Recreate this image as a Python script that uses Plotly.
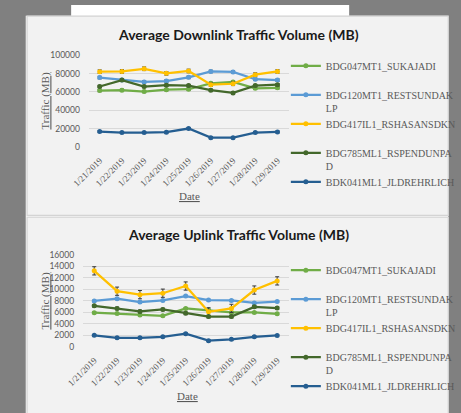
import plotly.graph_objects as go

W, H = 461, 413

DATES = ["1/21/2019", "1/22/2019", "1/23/2019", "1/24/2019", "1/25/2019",
         "1/26/2019", "1/27/2019", "1/28/2019", "1/29/2019"]

SERIES = ["BDG047MT1_SUKAJADI", "BDG120MT1_RESTSUNDAK<br>LP", "BDG417IL1_RSHASANSDKN",
          "BDG785ML1_RSPENDUNPA<br>D", "BDK041ML1_JLDREHRLICH"]
COLORS = ["#70ad47", "#5b9bd5", "#ffc000", "#43682b", "#255e91"]

# Downlink (MB)
DL_SUKAJADI = [61500, 62000, 60500, 62500, 63000, 69500, 71000, 64000, 64500]
DL_RESTSUNDAK = [75800, 73000, 71000, 72000, 76000, 82500, 82000, 74000, 73000]
DL_RSHASAN = [82200, 82500, 85400, 80400, 83000, 68000, 69000, 79000, 82500]
DL_RSPENDUN = [66000, 73000, 66000, 67500, 67000, 62000, 59000, 67000, 68000]
DL_JLDREHRLICH = [16700, 15600, 15600, 16000, 20000, 10000, 10000, 15600, 16300]
DL_ERR = [1200, 1400, 2000, 1300, 1000]

# Uplink (MB)
UL_SUKAJADI = [5900, 5750, 5500, 5350, 6650, 6350, 5950, 5950, 5700]
UL_RESTSUNDAK = [7950, 8350, 7750, 8050, 8800, 8100, 8050, 7600, 7850]
UL_RSHASAN = [13200, 9650, 9050, 9300, 10550, 6050, 6650, 9850, 11450]
UL_RSPENDUN = [7100, 6650, 6130, 6470, 5800, 5220, 5220, 6920, 6700]
UL_JLDREHRLICH = [1950, 1530, 1530, 1700, 2250, 1020, 1250, 1700, 1930]
UL_ERR = [140, 120, 720, 230, 130]

DL = [DL_SUKAJADI, DL_RESTSUNDAK, DL_RSHASAN, DL_RSPENDUN, DL_JLDREHRLICH]
UL = [UL_SUKAJADI, UL_RESTSUNDAK, UL_RSHASAN, UL_RSPENDUN, UL_JLDREHRLICH]

DL_TICKS = [0, 20000, 40000, 60000, 80000, 100000]
UL_TICKS = [0, 2000, 4000, 6000, 8000, 10000, 12000, 14000, 16000]


def px(x):
    return x / W


def py(y):
    return 1 - y / H


fig = go.Figure()

for i in range(5):
    for data, err, xa, ya, lg in ((DL, DL_ERR, "x", "y", "legend"),
                                 (UL, UL_ERR, "x2", "y2", "legend2")):
        name = SERIES[i] if "<br>" in SERIES[i] else SERIES[i] + "<br> "
        fig.add_trace(go.Scatter(
            x=DATES, y=data[i], name=name, xaxis=xa, yaxis=ya, legend=lg,
            mode="lines+markers",
            line=dict(color=COLORS[i], width=2.25),
            marker=dict(color=COLORS[i], size=5),
            error_y=dict(type="constant", value=err[i], color="#3a3a3a",
                         thickness=1, width=2),
        ))

shapes = [
    # white strip at top
    dict(type="rect", x0=px(59), x1=px(362), y0=py(0), y1=py(11.5),
         fillcolor="white", line_width=0),
    # light outline around panels
    dict(type="rect", x0=px(9.5), x1=px(470), y0=py(11), y1=py(420),
         fillcolor="#f4f4f4", line_width=0),
    # top panel
    dict(type="rect", x0=px(11), x1=px(470), y0=py(11.5), y1=py(215.5),
         fillcolor="#f2f2f2", line=dict(color="#d4d4d4", width=1.2)),
    # bottom panel
    dict(type="rect", x0=px(11), x1=px(470), y0=py(217.5), y1=py(420),
         fillcolor="#f2f2f2", line=dict(color="#d4d4d4", width=1.2)),
]
for s in shapes:
    s.update(xref="paper", yref="paper", layer="below")

title_font = dict(family="Lato", size=14, color="#1a1a1a", weight="bold")
axis_title_font = dict(family="Liberation Serif", size=11, color="#595959")

annotations = [
    dict(text="Average Downlink Traffic Volume (MB)", x=px(241.5), y=py(30)),
    dict(text="Average Uplink Traffic Volume (MB)", x=px(241), y=py(235)),
]
for a in annotations:
    a.update(font=title_font, showarrow=False, xref="paper", yref="paper",
             xanchor="center", yanchor="middle")

for yc, xc in ((98.5, 31), (303.5, 31)):
    annotations.append(dict(text="<u>Traffic (MB)</u>", x=px(xc), y=py(yc),
                            textangle=-90, font=axis_title_font, showarrow=False,
                            xref="paper", yref="paper", xanchor="center",
                            yanchor="middle"))
for yc, xc in ((196, 188), (401, 186)):
    annotations.append(dict(text="<u>Date</u>", x=px(xc), y=py(yc),
                            font=axis_title_font, showarrow=False,
                            xref="paper", yref="paper", xanchor="center",
                            yanchor="middle"))

xaxis_common = dict(
    type="category", range=[-0.5, 8.5], showgrid=False, zeroline=False,
    showline=False, tickangle=-45, ticks="outside", ticklen=4,
    tickcolor="rgba(0,0,0,0)",
    tickfont=dict(family="Liberation Serif", size=9, color="#595959"),
)
yaxis_common = dict(
    showgrid=True, gridcolor="#d9d9d9", gridwidth=1, zeroline=False,
    showline=False, ticks="outside", ticklen=6, tickcolor="rgba(0,0,0,0)",
    tickfont=dict(family="Lato", size=8.5, color="#595959"),
)

legend_common = dict(
    font=dict(family="Liberation Serif", size=10, color="#595959"),
    bgcolor="rgba(0,0,0,0)", borderwidth=0, xanchor="left", yanchor="top",
    valign="top", tracegroupgap=0, itemwidth=30, traceorder="normal",
)

fig.update_layout(
    width=W, height=H, autosize=False,
    margin=dict(l=0, r=0, t=0, b=0),
    paper_bgcolor="#808080", plot_bgcolor="rgba(0,0,0,0)",
    showlegend=True,
    xaxis=dict(domain=[px(78), px(296)], anchor="y", **xaxis_common),
    yaxis=dict(domain=[py(145.3), py(51.7)], anchor="x", range=[0, 100000],
               tickvals=DL_TICKS, ticktext=[str(v) for v in DL_TICKS],
               **yaxis_common),
    xaxis2=dict(domain=[px(71.7), px(296)], anchor="y2", **xaxis_common),
    yaxis2=dict(domain=[py(350), py(256)], anchor="x2", range=[0, 16000],
                tickvals=UL_TICKS, ticktext=[str(v) for v in UL_TICKS],
                **yaxis_common),
    legend=dict(x=px(293), y=py(49), **legend_common),
    legend2=dict(x=px(293), y=py(258.5), **legend_common),
    shapes=shapes,
    annotations=annotations,
)

fig.write_html("out.html",
               config={"displayModeBar": False},
               post_script="document.body.style.margin='0';"
                           "document.body.style.overflow='hidden';")
